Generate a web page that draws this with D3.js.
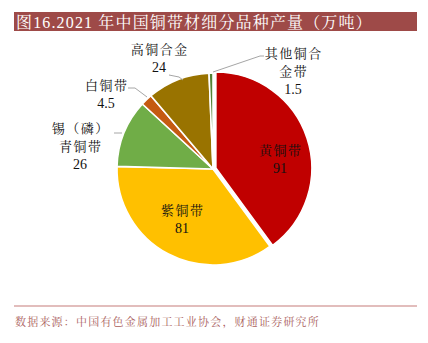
<!DOCTYPE html>
<html>
<head>
<meta charset="utf-8">
<script src="https://cdn.jsdelivr.net/npm/d3@7"></script>
<style>
  html, body { margin: 0; padding: 0; background: #fff; }
  svg { display: block; }
</style>
</head>
<body>
<svg id="chart" width="428" height="343"></svg>
<script>
// Copper strip production by product type, 2021 (10k tonnes)
const categories = ["黄铜带", "紫铜带", "锡（磷）青铜带", "白铜带", "高铜合金", "其他铜合金带"];
const values = [91, 81, 26, 4.5, 24, 1.5];
const colors = ["#C00000", "#FFC000", "#70AD47", "#C55A11", "#997300", "#548235"];
const labelLines = [["黄铜带"], ["紫铜带"], ["锡（磷）", "青铜带"], ["白铜带"], ["高铜合金"], ["其他铜合", "金带"]];

const titleText = "图16.2021 年中国铜带材细分品种产量（万吨）";
const sourceText = "数据来源：中国有色金属加工工业协会，财通证券研究所";

const W = 428, H = 343;
const svg = d3.select("#chart");
const cjk = "'Liberation Serif', 'Noto Serif CJK SC', 'Noto Sans CJK SC', serif";

// Title banner
svg.append("rect").attr("x", 14).attr("y", 12).attr("width", 403).attr("height", 19).attr("fill", "#9E4A48");
svg.append("text").attr("x", 16).attr("y", 27.5)
  .attr("fill", "#fff").attr("font-family", cjk).attr("font-size", 16)
  .attr("letter-spacing", 1.15)
  .text(titleText);

// Pie
const cx = 213, cy = 169, R = 96;
const pie = d3.pie().sort(null).value(d => d.v).startAngle(0).endAngle(2 * Math.PI);
const data = categories.map((c, i) => ({ c, v: values[i], col: colors[i], lines: labelLines[i] }));
const arcs = pie(data);
const arc = d3.arc().innerRadius(0).outerRadius(R);
const g = svg.append("g").attr("transform", `translate(${cx},${cy})`);

// explode the largest slice slightly
const explode = [3, 0, 0, 0, 0, 0];
g.selectAll("path").data(arcs).join("path")
  .attr("d", arc)
  .attr("fill", d => d.data.col)
  .attr("stroke", "#fff").attr("stroke-width", 1.6)
  .attr("transform", (d, i) => {
    const a = (d.startAngle + d.endAngle) / 2;
    return `translate(${explode[i] * Math.sin(a)},${-explode[i] * Math.cos(a)})`;
  });

// Label placement (baseline of first line, relative to pie centre) and leader lines
const labelPos = [
  { x: 67, y: -14 },
  { x: -31, y: 46 },
  { x: -133, y: -36 },
  { x: -107, y: -79 },
  { x: -54, y: -115 },
  { x: 80, y: -111 }
];
const leaders = [
  null,
  null,
  [[-99, -36], [-91, -36]],
  [[-85, -81], [-78, -81], [-66, -72]],
  [[-44, -94], [-34, -92], [-30, -89]],
  [[0, -97], [47, -113], [51, -113]]
];

const lineH = 18;
arcs.forEach((d, i) => {
  const p = labelPos[i];
  const lines = d.data.lines;
  const t = g.append("text")
    .attr("text-anchor", "middle")
    .attr("font-family", cjk)
    .attr("fill", "#111");
  lines.forEach((ln, k) => {
    t.append("tspan").attr("x", p.x + 0.75).attr("y", p.y + k * lineH)
      .attr("font-size", 13).attr("letter-spacing", 1.5).text(ln);
  });
  t.append("tspan").attr("x", p.x).attr("y", p.y + lines.length * lineH)
    .attr("font-size", 14).text(String(d.data.v));
  if (leaders[i]) {
    g.append("path").attr("d", d3.line()(leaders[i]))
      .attr("fill", "none").attr("stroke", "#A6A6A6").attr("stroke-width", 1);
  }
});

// Footer rule and source
svg.append("line").attr("x1", 14).attr("x2", 417).attr("y1", 306).attr("y2", 306)
  .attr("stroke", "#D9A7A6").attr("stroke-width", 1.5);
svg.append("text").attr("x", 15).attr("y", 326)
  .attr("fill", "#A95C5A").attr("font-family", cjk).attr("font-size", 11)
  .attr("letter-spacing", 1.2)
  .text(sourceText);
</script>
</body>
</html>
